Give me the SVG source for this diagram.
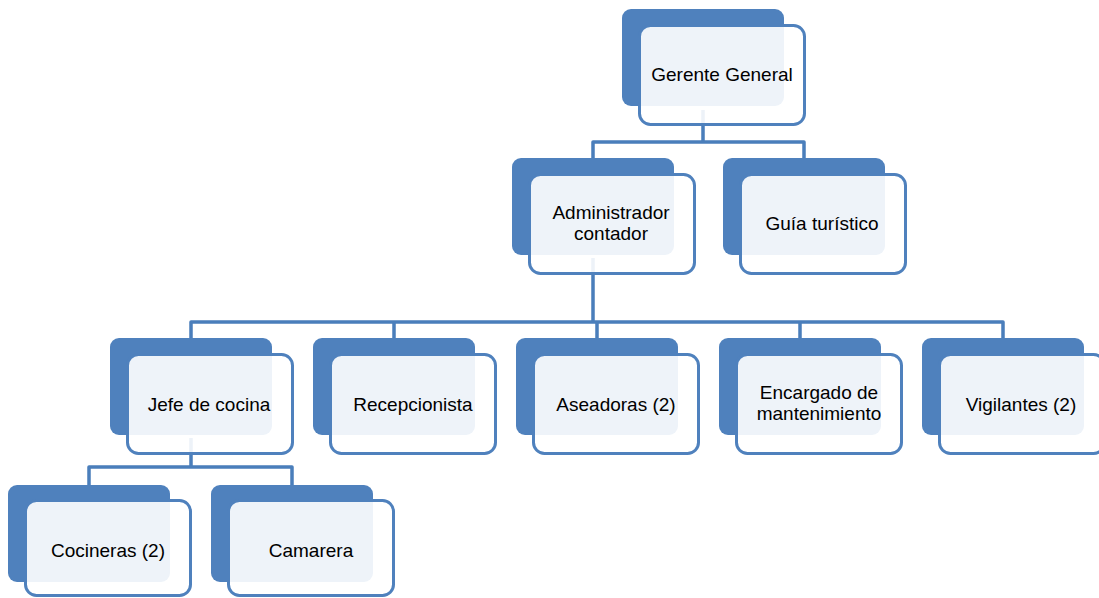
<svg xmlns="http://www.w3.org/2000/svg" width="1099" height="598" viewBox="0 0 1099 598">
<style>
.back{fill:#4f81bd;}
.front{fill:#ffffff;fill-opacity:0.9;stroke:#4f81bd;stroke-width:3;}
.conn{fill:none;stroke:#4a7ebb;stroke-width:3.5;stroke-linejoin:round;}
text{font-family:"Liberation Sans",Arial,sans-serif;font-size:19px;fill:#000;text-anchor:middle;}
</style>
<rect width="1099" height="598" fill="#ffffff"/>
<g id="connectors">
<path class="conn" d="M703,110 V142 M593,158 V142 H804 V158"/>
<path class="conn" d="M593,258 V322 M191,338 V322 H1003 V338 M394,322 V338 M597,322 V338 M800,322 V338"/>
<path class="conn" d="M191,438 V467 M89,485 V467 H292 V485"/>
</g>
<g id="gerente">
<rect class="back" x="622" y="9" width="162" height="97" rx="9"/>
<rect class="front" x="639.5" y="25.5" width="165" height="99" rx="11"/>
<text x="722" y="81">Gerente General</text>
</g>
<g id="administrador">
<rect class="back" x="512" y="158" width="162" height="97" rx="9"/>
<rect class="front" x="529.5" y="174.5" width="165" height="99" rx="11"/>
<text x="611" y="219">Administrador</text>
<text x="611" y="240">contador</text>
</g>
<g id="guia">
<rect class="back" x="723" y="158" width="162" height="97" rx="9"/>
<rect class="front" x="740.5" y="174.5" width="165" height="99" rx="11"/>
<text x="822" y="230">Guía turístico</text>
</g>
<g id="jefe">
<rect class="back" x="110" y="338" width="162" height="97" rx="9"/>
<rect class="front" x="127.5" y="354.5" width="165" height="99" rx="11"/>
<text x="209" y="411">Jefe de cocina</text>
</g>
<g id="recepcionista">
<rect class="back" x="313" y="338" width="162" height="97" rx="9"/>
<rect class="front" x="330.5" y="354.5" width="165" height="99" rx="11"/>
<text x="413" y="411">Recepcionista</text>
</g>
<g id="aseadoras">
<rect class="back" x="516" y="338" width="162" height="97" rx="9"/>
<rect class="front" x="533.5" y="354.5" width="165" height="99" rx="11"/>
<text x="616" y="411">Aseadoras (2)</text>
</g>
<g id="encargado">
<rect class="back" x="719" y="338" width="162" height="97" rx="9"/>
<rect class="front" x="736.5" y="354.5" width="165" height="99" rx="11"/>
<text x="819" y="399">Encargado de</text>
<text x="819" y="420">mantenimiento</text>
</g>
<g id="vigilantes">
<rect class="back" x="922" y="338" width="162" height="97" rx="9"/>
<rect class="front" x="939.5" y="354.5" width="165" height="99" rx="11"/>
<text x="1021" y="411">Vigilantes (2)</text>
</g>
<g id="cocineras">
<rect class="back" x="8" y="485" width="162" height="97" rx="9"/>
<rect class="front" x="25.5" y="500.5" width="165" height="95" rx="11"/>
<text x="108" y="557">Cocineras (2)</text>
</g>
<g id="camarera">
<rect class="back" x="211" y="485" width="162" height="97" rx="9"/>
<rect class="front" x="228.5" y="500.5" width="165" height="95" rx="11"/>
<text x="311" y="557">Camarera</text>
</g>
</svg>
